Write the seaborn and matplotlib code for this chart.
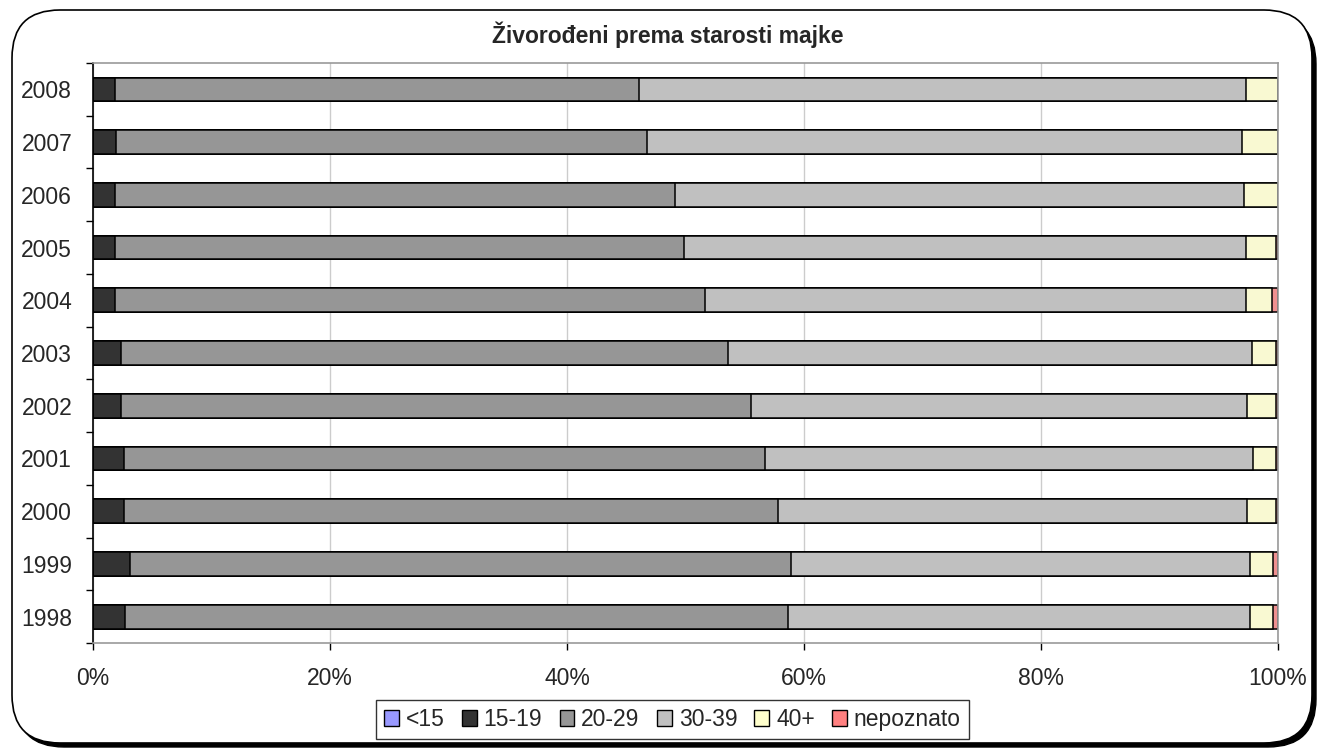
import numpy as np
import pandas as pd
import seaborn as sns
import matplotlib.pyplot as plt
from matplotlib.patches import Patch, FancyBboxPatch
from matplotlib.ticker import FixedLocator, PercentFormatter

years = ['1998', '1999', '2000', '2001', '2002', '2003', '2004', '2005', '2006', '2007', '2008']
age_groups = ['<15', '15-19', '20-29', '30-39', '40+', 'nepoznato']

# share of live births per mother's age group (%)
lt15 = [0.03, 0.03, 0.03, 0.03, 0.03, 0.03, 0.03, 0.03, 0.03, 0.03, 0.03]
a15_19 = [2.7, 3.1, 2.6, 2.6, 2.3, 2.3, 1.8, 1.8, 1.8, 1.9, 1.8]
a20_29 = [55.9, 55.8, 55.2, 54.1, 53.2, 51.3, 49.8, 48.1, 47.3, 44.8, 44.3]
a30_39 = [39.0, 38.7, 39.6, 41.2, 41.9, 44.2, 45.7, 47.4, 48.0, 50.3, 51.2]
a40plus = [2.0, 2.0, 2.4, 1.9, 2.4, 2.0, 2.2, 2.5, 2.9, 3.0, 2.7]
unknown = [0.4, 0.4, 0.2, 0.2, 0.2, 0.2, 0.5, 0.2, 0.0, 0.0, 0.0]

colors = ['#9999FF', '#333333', '#969696', '#C0C0C0', '#FFFFCC', '#FF8080']

df = pd.DataFrame({'year': years, '<15': lt15, '15-19': a15_19, '20-29': a20_29,
                   '30-39': a30_39, '40+': a40plus, 'nepoznato': unknown})
vals = df[age_groups]
pct = vals.div(vals.sum(axis=1), axis=0) * 100
cum = pct.cumsum(axis=1)
cum['year'] = df['year']

sns.set_style('white')
plt.rcParams['font.family'] = ['Liberation Sans', 'DejaVu Sans']

W, H = 1319, 749
fig = plt.figure(figsize=(W / 100, H / 100), dpi=100)

# rounded chart frame with shadow
shadow = FancyBboxPatch((16, 2), 1300, 731, boxstyle='round,pad=0,rounding_size=48',
                        transform=None, fc='black', ec='black', lw=1, zorder=-11)
frame = FancyBboxPatch((12, 6), 1300, 733, boxstyle='round,pad=0,rounding_size=48',
                       transform=None, fc='white', ec='black', lw=1.2, zorder=-10)
fig.add_artist(shadow)
fig.add_artist(frame)

ax = fig.add_axes([93 / W, 1 - 643 / H, (1278 - 93) / W, (643 - 63) / H])
ax.patch.set_alpha(0)

order = years[::-1]
# draw cumulative totals from the last group back, so each one covers the next
for grp, col in reversed(list(zip(age_groups, colors))):
    sns.barplot(data=cum, x=grp, y='year', order=order, orient='h', color=col,
                edgecolor='black', linewidth=1.1, width=0.45, errorbar=None, ax=ax)

ax.set_xlim(0, 100)
ax.set_ylim(len(years) - 0.5, -0.5)
ax.set_xlabel('')
ax.set_ylabel('')
ax.xaxis.set_major_locator(FixedLocator([0, 20, 40, 60, 80, 100]))
ax.xaxis.set_major_formatter(PercentFormatter(decimals=0))
ax.grid(axis='x', color='#cccccc', lw=1)
ax.set_axisbelow(True)
ax.yaxis.set_minor_locator(FixedLocator(np.arange(-0.5, len(years), 1)))
ax.tick_params(axis='y', which='major', length=0, pad=15, labelsize=16.5)
ax.tick_params(axis='y', which='minor', left=True, length=5, width=1, color='black')
ax.tick_params(axis='x', which='major', bottom=True, length=5, width=1, color='black',
               pad=12, labelsize=16.5)
for s in ['top', 'right', 'bottom']:
    ax.spines[s].set_visible(True)
    ax.spines[s].set_color('#999999')
    ax.spines[s].set_linewidth(1.2)
ax.spines['left'].set_color('black')
ax.spines['left'].set_linewidth(1.2)

fig.text(668 / W, 1 - 35 / H, 'Živorođeni prema starosti majke', ha='center', va='center',
         fontsize=16.5, fontweight='bold')

handles = [Patch(facecolor=c, edgecolor='black', lw=1, label=g) for g, c in zip(age_groups, colors)]
leg = fig.legend(handles=handles, loc='center', bbox_to_anchor=(672.5 / W, 1 - 719.5 / H),
                 ncol=6, fontsize=16.5, frameon=True, fancybox=False, handlelength=0.65,
                 handleheight=0.65, handletextpad=0.3, columnspacing=0.75, borderpad=0.35)
leg.get_frame().set_edgecolor('black')
leg.get_frame().set_linewidth(1)

fig.savefig('out.png', dpi=100)
